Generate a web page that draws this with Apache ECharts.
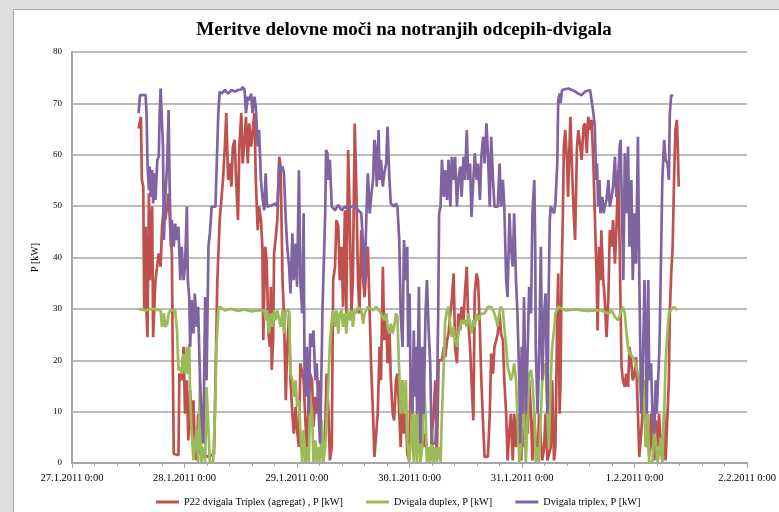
<!DOCTYPE html>
<html>
<head>
<meta charset="utf-8">
<script src="https://cdn.jsdelivr.net/npm/echarts@6/dist/echarts.min.js"></script>
<style>
html,body{margin:0;padding:0;background:#dedede;width:779px;height:512px;overflow:hidden;}
#frame{position:absolute;left:13px;top:9px;width:800px;height:520px;background:#fff;border:1.5px solid #a9a9a9;box-sizing:border-box;}
#chart{position:absolute;left:0;top:0;width:779px;height:512px;}
</style>
</head>
<body>
<div id="frame"></div>
<div id="chart"></div>
<script>
// Tick labels (x axis = hours since 27.1.2011 0:00)
const dayLabels = ['27.1.2011 0:00','28.1.2011 0:00','29.1.2011 0:00','30.1.2011 0:00','31.1.2011 0:00','1.2.2011 0:00','2.2.2011 0:00'];
const seriesNames = ['P22 dvigala Triplex (agregat) , P [kW]','Dvigala duplex, P [kW]','Dvigala triplex, P [kW]'];

// P22 dvigala Triplex (agregat) — time (h) / value (kW)
const redT = [14.2,14.5,14.7,14.9,15.2,15.4,15.6,15.7,15.9,16.1,16.4,16.6,16.8,17.1,17.3,17.6,17.8,18.2,18.5,18.9,19.2,19.6,19.9,20.3,20.6,21.0,21.3,21.5,21.7,22.7,22.9,23.4,23.8,24.1,24.5,24.8,25.2,25.5,25.9,26.2,26.6,26.9,27.3,29.1,30.3,30.6,31.0,31.5,32.2,32.6,32.9,33.3,33.6,34.0,34.3,34.7,35.0,35.4,35.7,36.1,36.4,36.8,37.1,37.5,37.8,38.2,38.9,39.2,39.6,39.9,40.3,40.6,40.8,41.2,41.5,41.9,42.2,42.4,42.6,42.9,43.1,43.4,43.8,44.2,44.5,44.9,45.2,45.6,45.9,46.3,46.6,47.0,47.3,47.7,48.0,48.4,48.7,49.1,49.4,49.8,50.1,50.5,50.8,51.2,51.5,51.9,52.2,52.6,52.9,53.3,53.6,54.0,54.3,54.7,55.0,55.4,55.7,56.1,56.4,56.8,57.1,57.5,57.8,58.2,58.5,58.9,59.2,59.6,59.9,60.3,60.6,61.0,61.3,61.7,62.1,62.4,62.8,63.1,63.5,63.8,64.2,64.5,64.9,65.2,65.6,65.9,66.3,66.6,67.0,67.3,67.7,68.0,68.4,68.7,69.1,69.4,69.8,70.1,70.5,70.8,71.2,71.5,71.9,72.2,72.6,72.9,73.3,73.6,74.0,74.3,74.7,75.0,75.4,75.7,76.4,76.8,77.1,77.5,77.8,78.2,78.9,79.3,79.6,80.0,80.3,80.7,81.0,81.4,81.7,82.1,82.4,82.8,83.1,83.5,83.8,84.2,84.5,84.9,85.2,85.6,85.9,86.3,86.6,87.0,87.3,87.7,88.0,88.7,89.1,89.4,89.8,90.1,90.5,90.8,91.2,91.5,91.9,92.2,92.6,92.9,93.3,93.6,94.0,94.3,94.7,95.0,95.4,95.8,96.1,96.4,96.8,97.2,97.5,97.9,98.2,98.6,98.9,99.3,99.6,100.0,100.3,100.7,101.0,101.4,102.1,102.4,102.8,103.1,103.5,103.7,104.0,104.2,104.4,104.7,104.9,105.2,105.6,105.8,106.1,106.3,106.6,107.0,107.3,107.7,108.0,108.4,108.7,109.1,109.4,109.8,110.1,110.5,110.8,111.2,111.5,111.9,112.1,112.4,112.7,112.9,113.3,113.6,114.0,114.4,114.7,115.1,115.4,115.8,116.1,116.5,116.8,117.2,117.5,117.9,118.2,118.6,118.9,119.3,119.6,120.0,120.3,120.7,121.0,121.4,121.7,122.1,122.4,122.8,123.1,123.5,123.8,124.2,124.5,124.9,125.2,125.6,125.9,126.3,126.6,127.0,127.3,127.5,127.8,128.1,128.4,128.7,129.0,129.2,129.4];
const redV = [65.1,64.8,67.4,55.1,53.8,29.7,39.5,46.0,29.1,24.5,52.5,35.6,46.0,49.9,24.5,24.5,35.6,35.6,40.8,38.2,46.0,49.9,47.3,49.9,52.5,44.7,40.8,19.4,1.8,1.5,17.4,16.1,22.6,9.6,16.1,4.4,14.2,6.4,12.2,3.1,0.5,9.6,1.8,1.2,1.8,16.1,35.6,47.3,55.1,61.6,68.1,55.1,58.3,53.8,61.6,62.9,55.1,47.3,61.6,68.1,58.3,62.9,67.4,58.3,66.1,61.6,68.1,55.1,45.3,49.9,47.3,42.1,23.9,42.1,39.5,25.2,22.6,34.3,18.1,23.9,40.8,43.4,47.3,59.6,57.7,35.6,29.1,12.2,22.6,29.1,16.1,9.6,5.7,10.9,6.4,3.1,19.4,17.4,16.1,7.7,3.1,12.2,17.4,16.1,7.0,12.9,9.6,16.1,12.2,3.1,1.2,6.4,17.4,9.6,0.5,3.1,35.6,38.2,47.3,46.0,35.6,42.1,30.4,49.2,29.1,60.9,49.9,29.1,35.6,66.1,55.1,35.6,29.1,45.3,35.6,32.3,38.2,42.1,29.1,18.7,9.6,1.2,1.2,9.6,22.6,16.1,38.2,23.9,29.1,19.4,26.5,16.1,9.6,8.3,16.1,17.4,9.6,3.1,16.1,5.7,9.6,1.8,0.5,16.1,9.6,1.2,4.4,9.6,1.8,16.1,9.6,3.1,5.7,1.8,0.5,0.5,9.6,16.1,0.5,20.0,20.0,22.6,20.6,23.9,25.2,29.1,31.7,36.9,22.6,19.4,29.1,25.8,30.4,27.8,33.0,38.2,27.8,22.6,16.1,8.3,33.0,36.9,35.6,25.8,16.1,7.0,1.2,1.2,9.6,21.3,17.4,22.6,23.9,25.2,29.1,25.2,23.9,16.1,9.6,0.5,6.4,9.6,0.5,9.6,3.1,9.6,4.4,0.5,7.0,3.1,9.6,5.7,16.1,9.6,0.5,9.6,3.1,0.5,9.6,4.4,0.5,3.1,9.6,0.5,3.1,16.1,0.5,3.1,29.1,36.9,9.6,16.1,35.6,48.6,61.6,64.8,58.3,51.8,61.6,67.4,58.3,48.6,43.4,61.6,64.8,61.6,59.0,65.5,66.1,60.3,67.4,64.8,66.8,58.3,48.6,35.6,25.8,42.1,35.6,45.3,35.6,32.3,24.5,32.3,45.3,42.1,47.3,38.8,45.3,57.0,42.1,18.7,16.1,14.8,17.4,14.8,22.6,19.4,16.1,17.4,20.6,9.6,1.2,1.2,9.6,16.1,3.1,5.7,1.2,9.6,3.1,0.5,8.3,3.1,9.6,3.1,0.5,9.6,0.5,0.5,16.1,29.1,36.9,42.1,55.1,64.8,66.8,61.6,53.8];

// Dvigala duplex
const greenT = [14.2,15.7,17.1,18.9,19.2,19.6,19.9,20.3,20.6,21.0,22.0,22.4,22.7,23.1,23.4,23.8,24.1,24.5,24.7,25.0,25.2,25.5,25.9,26.2,26.6,26.9,27.3,27.6,28.0,28.4,28.7,29.1,29.4,30.1,30.5,30.8,31.2,31.5,32.6,34.0,35.4,36.8,38.2,39.6,41.0,41.3,41.6,42.0,42.4,42.7,43.1,43.4,43.8,44.5,44.9,45.2,45.6,46.3,46.6,47.0,47.3,47.7,48.0,48.4,48.7,49.1,49.4,49.8,50.1,50.5,50.8,51.2,51.5,51.9,52.2,52.6,52.9,53.3,53.6,54.0,54.3,54.7,55.0,55.4,55.7,56.1,56.4,56.8,57.1,57.5,57.8,58.2,58.5,58.9,59.2,59.6,59.9,60.3,60.6,61.0,61.7,62.1,62.4,63.1,64.2,64.9,65.9,66.6,67.0,67.3,67.7,68.0,68.4,68.7,69.1,69.4,69.8,70.1,70.5,70.8,71.2,71.5,71.9,72.2,72.6,72.9,73.3,73.6,74.0,74.3,74.7,75.0,75.4,75.7,76.1,76.4,76.8,77.1,77.5,77.8,78.2,78.6,78.9,79.3,79.6,80.0,80.3,80.7,81.0,81.4,81.7,82.1,82.4,83.1,83.5,83.8,84.2,84.5,84.9,85.2,85.6,85.9,86.3,86.6,87.3,88.0,88.7,89.4,90.1,90.5,90.8,91.2,91.5,91.9,92.2,92.6,92.9,93.3,93.6,94.0,94.3,94.7,95.0,95.4,95.8,96.1,96.4,96.8,97.2,97.5,97.9,98.2,98.6,98.9,99.3,99.6,100.0,100.3,100.7,101.0,101.4,101.7,102.1,102.4,102.8,103.1,103.7,105.2,107.3,108.7,110.1,111.5,112.9,114.4,115.1,115.8,116.5,117.2,117.5,117.9,118.2,118.6,118.9,119.6,120.0,120.3,120.7,121.0,121.4,121.7,122.1,122.4,122.8,123.1,123.8,124.2,124.9,125.2,125.6,125.9,126.3,126.6,127.0,127.3,127.7,128.4,129.1];
const greenV = [30.0,29.7,30.0,29.7,26.5,29.1,26.5,27.1,29.1,29.7,29.7,25.8,18.1,18.7,17.4,21.3,17.4,22.6,17.4,23.2,12.9,6.4,0.5,0.2,6.4,0.2,16.1,0.2,3.1,0.2,14.8,14.8,0.2,0.2,9.6,22.6,29.7,30.4,29.7,30.0,29.6,29.9,29.5,29.7,29.7,27.8,29.7,25.2,29.1,26.5,29.7,27.8,29.7,26.5,29.7,25.2,29.7,29.7,17.4,16.1,12.9,16.1,10.9,12.2,6.4,0.2,6.4,0.2,3.1,0.2,12.9,9.6,0.2,4.4,0.2,3.1,0.2,8.3,0.2,3.1,8.3,16.1,23.2,27.8,29.7,26.5,29.7,25.2,29.1,29.7,26.5,29.1,25.2,29.7,27.8,29.7,26.5,29.7,29.1,30.4,29.7,27.1,29.1,30.4,29.7,30.4,29.1,27.8,29.1,26.5,25.2,27.1,25.2,26.5,29.1,28.4,17.4,9.6,16.1,9.6,16.1,4.4,0.2,3.1,12.9,0.2,9.6,0.2,12.9,0.2,3.1,16.1,9.6,0.2,3.1,0.2,6.4,0.2,3.1,0.2,3.1,0.2,9.6,19.4,27.7,29.7,30.4,26.5,24.5,26.5,23.9,22.6,25.2,27.8,27.1,27.8,26.5,29.1,27.1,25.2,27.8,26.5,29.1,27.8,29.1,29.1,30.4,30.4,29.1,27.8,26.5,29.7,30.4,29.7,26.5,22.6,18.7,17.4,16.1,17.4,19.4,16.1,9.6,0.2,3.1,16.1,9.6,0.2,9.6,17.4,18.1,16.1,9.6,0.2,3.1,0.2,9.6,16.1,18.7,19.4,9.6,3.1,16.1,22.6,25.8,29.1,30.4,29.7,29.9,29.7,29.6,29.7,29.7,29.1,29.7,28.4,27.8,29.7,30.4,29.1,25.8,22.6,21.3,20.6,20.0,18.7,17.4,16.1,12.9,19.4,9.6,3.1,9.6,0.2,0.2,7.0,0.2,0.2,5.0,0.2,9.6,19.4,25.8,29.1,29.7,30.4,29.7,29.1];

// Dvigala triplex
const purpleT = [14.2,14.5,15.7,15.9,16.1,16.4,16.6,16.8,17.1,17.3,17.5,17.8,18.0,18.2,18.5,18.7,18.9,19.2,19.4,19.6,19.9,20.3,20.6,20.8,21.1,21.3,21.7,22.0,22.4,22.7,23.1,23.4,23.8,24.1,24.5,24.7,25.0,25.2,25.5,25.9,26.2,26.6,26.9,27.3,27.6,28.0,28.4,28.7,29.1,29.4,29.8,30.6,31.2,31.5,31.9,32.6,33.3,34.0,34.7,35.4,36.1,36.4,36.8,37.1,37.5,37.8,38.2,38.5,38.9,39.2,39.6,39.9,40.3,40.6,41.0,41.3,41.6,42.0,42.7,43.4,43.8,44.2,44.5,44.9,45.2,45.6,45.9,46.3,46.6,47.0,47.3,47.7,48.0,48.4,48.7,49.1,49.4,49.6,49.8,50.1,50.5,50.8,51.2,51.5,51.9,52.2,52.6,52.9,53.3,53.4,53.6,54.0,54.2,54.5,54.7,55.0,55.4,56.1,56.8,57.5,58.2,58.9,59.6,60.3,61.0,61.7,62.1,62.4,62.8,63.1,63.5,63.8,64.2,64.5,64.7,65.0,65.4,65.6,65.9,66.3,66.6,67.0,67.3,67.7,68.0,68.7,69.1,69.4,69.8,70.1,70.5,70.8,71.2,71.5,71.7,72.0,72.2,72.6,72.9,73.1,73.4,73.6,74.0,74.3,74.7,75.0,75.4,75.7,76.1,76.4,76.7,77.5,77.8,78.1,78.3,78.6,78.9,79.3,79.6,80.0,80.3,80.7,81.0,81.4,81.7,82.1,82.4,82.8,83.1,83.5,83.8,84.2,84.5,84.9,85.2,85.6,85.9,86.3,86.6,87.0,87.3,87.7,88.0,88.4,88.7,89.1,89.4,89.8,90.1,90.8,91.2,91.5,91.9,92.2,92.6,92.9,93.3,93.6,94.0,94.3,94.7,95.0,95.4,95.6,95.9,96.1,96.4,96.8,97.2,97.5,97.9,98.2,98.6,98.8,98.9,99.3,99.6,100.0,100.3,100.7,101.0,101.4,101.6,101.9,102.1,102.8,103.1,103.5,103.7,104.0,104.2,104.5,105.9,107.3,108.0,108.7,109.4,110.5,110.8,111.2,111.5,111.8,112.0,112.2,112.5,112.7,113.1,113.4,113.6,114.0,114.4,114.7,115.1,115.4,115.8,116.1,116.5,116.8,117.0,117.3,117.6,117.9,118.2,118.6,118.9,119.3,119.6,120.0,120.3,120.7,121.0,121.4,121.7,122.1,122.4,122.6,122.9,123.1,123.5,123.8,124.2,124.5,124.7,125.0,125.3,125.6,125.9,126.3,126.6,127.0,127.3,127.5,127.8,128.2];
const purpleV = [68.1,71.6,71.6,68.1,58.3,53.1,57.7,51.8,57.0,50.5,56.4,51.2,55.1,59.0,59.6,68.1,72.9,72.6,61.6,43.4,51.8,58.3,68.7,55.1,42.1,47.3,42.1,46.6,43.4,46.0,35.6,42.1,35.6,38.2,49.9,35.6,32.3,22.6,31.7,25.2,33.0,26.5,30.4,16.1,9.6,3.8,32.3,16.1,42.1,44.7,49.9,49.9,68.1,72.3,71.9,72.6,71.9,72.6,72.3,72.6,72.7,73.2,72.6,68.1,71.3,70.6,71.9,68.1,71.3,69.4,61.6,64.8,55.1,51.8,49.2,56.4,49.9,49.9,50.2,50.5,49.9,58.3,57.0,57.7,56.4,47.3,42.1,38.2,33.0,44.7,35.6,42.7,34.3,57.0,35.6,29.1,48.6,16.1,12.9,22.6,9.6,25.2,22.6,25.8,16.1,19.4,9.6,3.8,22.6,29.1,35.6,48.6,60.9,60.3,55.1,59.0,49.9,49.2,50.2,49.2,49.9,49.5,49.9,50.2,49.2,48.6,42.1,34.9,48.6,56.4,48.6,51.8,55.1,62.9,61.6,53.8,64.8,55.1,59.0,53.8,56.4,58.3,65.5,55.1,50.5,49.9,50.5,49.9,43.4,29.1,22.6,43.4,35.6,42.1,22.6,33.0,16.1,9.6,25.8,12.9,22.6,9.6,34.3,3.8,22.6,9.6,29.1,35.6,25.2,19.4,3.8,3.8,9.6,29.1,48.6,49.9,59.0,51.8,57.0,51.2,59.0,49.9,59.6,55.1,59.6,49.9,55.1,57.7,51.8,59.6,55.1,64.8,55.1,58.3,47.9,55.1,60.3,55.1,58.3,51.2,59.6,63.5,58.3,66.1,60.3,49.9,63.5,55.1,49.9,49.9,58.3,49.9,55.1,49.9,35.6,32.3,48.6,42.1,38.2,48.6,35.6,29.1,16.1,3.8,22.6,9.6,32.3,9.6,22.6,34.3,29.1,48.6,55.1,42.1,22.6,9.6,19.4,42.1,16.1,29.1,33.0,9.6,29.1,47.3,49.9,48.6,50.5,58.3,70.6,71.9,70.0,72.6,72.9,72.3,71.9,71.6,72.3,72.6,72.9,68.1,65.5,55.1,58.3,49.9,55.1,48.6,51.8,48.6,49.9,51.2,55.1,49.9,51.8,53.8,59.6,51.8,55.1,61.6,62.9,48.6,35.6,60.3,48.6,61.6,42.1,55.1,35.6,48.6,38.8,63.5,35.6,9.6,16.1,35.6,22.6,9.6,35.6,16.1,19.4,9.6,5.7,16.1,9.6,16.1,22.6,38.8,55.1,62.9,59.0,58.3,55.1,68.1,71.6,71.4];

function pairs(t, v) { return t.map((x, i) => [x, v[i]]); }

const FONT = '"Liberation Serif", "DejaVu Serif", serif';
const chart = echarts.init(document.getElementById('chart'), null, {renderer: 'canvas'});
const gridGray = '#a6a6a6';
chart.setOption({
  animation: false,
  backgroundColor: 'transparent',
  title: {
    text: 'Meritve delovne moči na notranjih odcepih-dvigala',
    left: 404, top: 21, textAlign: 'center', padding: 0,
    textStyle: {fontFamily: FONT, fontSize: 19, fontWeight: 'bold', color: '#000'}
  },
  legend: {
    left: 156, top: 497, padding: 0,
    itemWidth: 23, itemHeight: 3, itemGap: 23,
    icon: 'rect',
    textStyle: {fontFamily: FONT, fontSize: 10.3, color: '#000'},
    data: seriesNames
  },
  grid: {left: 72, right: 23, top: 52, bottom: 49, containLabel: false},
  xAxis: {
    type: 'value', min: 0, max: 144, interval: 24,
    axisLine: {show: true, lineStyle: {color: gridGray, width: 2}},
    axisTick: {show: true, length: 5, lineStyle: {color: gridGray}},
    minorTick: {show: true, splitNumber: 5, length: 3, lineStyle: {color: gridGray}},
    splitLine: {show: false},
    axisLabel: {margin: 10, fontFamily: FONT, fontSize: 10.5, color: '#000',
      formatter: v => dayLabels[Math.round(v / 24)] || ''}
  },
  yAxis: {
    type: 'value', min: 0, max: 80, interval: 10,
    name: 'P [kW]', nameLocation: 'middle', nameRotate: 90, nameGap: 32,
    nameTextStyle: {fontFamily: FONT, fontSize: 10, color: '#000'},
    axisLine: {show: true, lineStyle: {color: gridGray, width: 2}},
    axisTick: {show: false},
    splitLine: {show: true, lineStyle: {color: gridGray, width: 1.5}},
    axisLabel: {margin: 10, fontFamily: FONT, fontSize: 9, color: '#000'}
  },
  series: [
    {name: seriesNames[0], type: 'line', data: pairs(redT, redV), showSymbol: false, symbol: 'none',
     lineStyle: {color: '#c0504d', width: 2.7}, itemStyle: {color: '#c0504d'}},
    {name: seriesNames[1], type: 'line', data: pairs(greenT, greenV), showSymbol: false, symbol: 'none',
     lineStyle: {color: '#9bbb59', width: 2.7}, itemStyle: {color: '#9bbb59'}},
    {name: seriesNames[2], type: 'line', data: pairs(purpleT, purpleV), showSymbol: false, symbol: 'none',
     lineStyle: {color: '#8064a2', width: 2.7}, itemStyle: {color: '#8064a2'}}
  ]
});
</script>
</body>
</html>
